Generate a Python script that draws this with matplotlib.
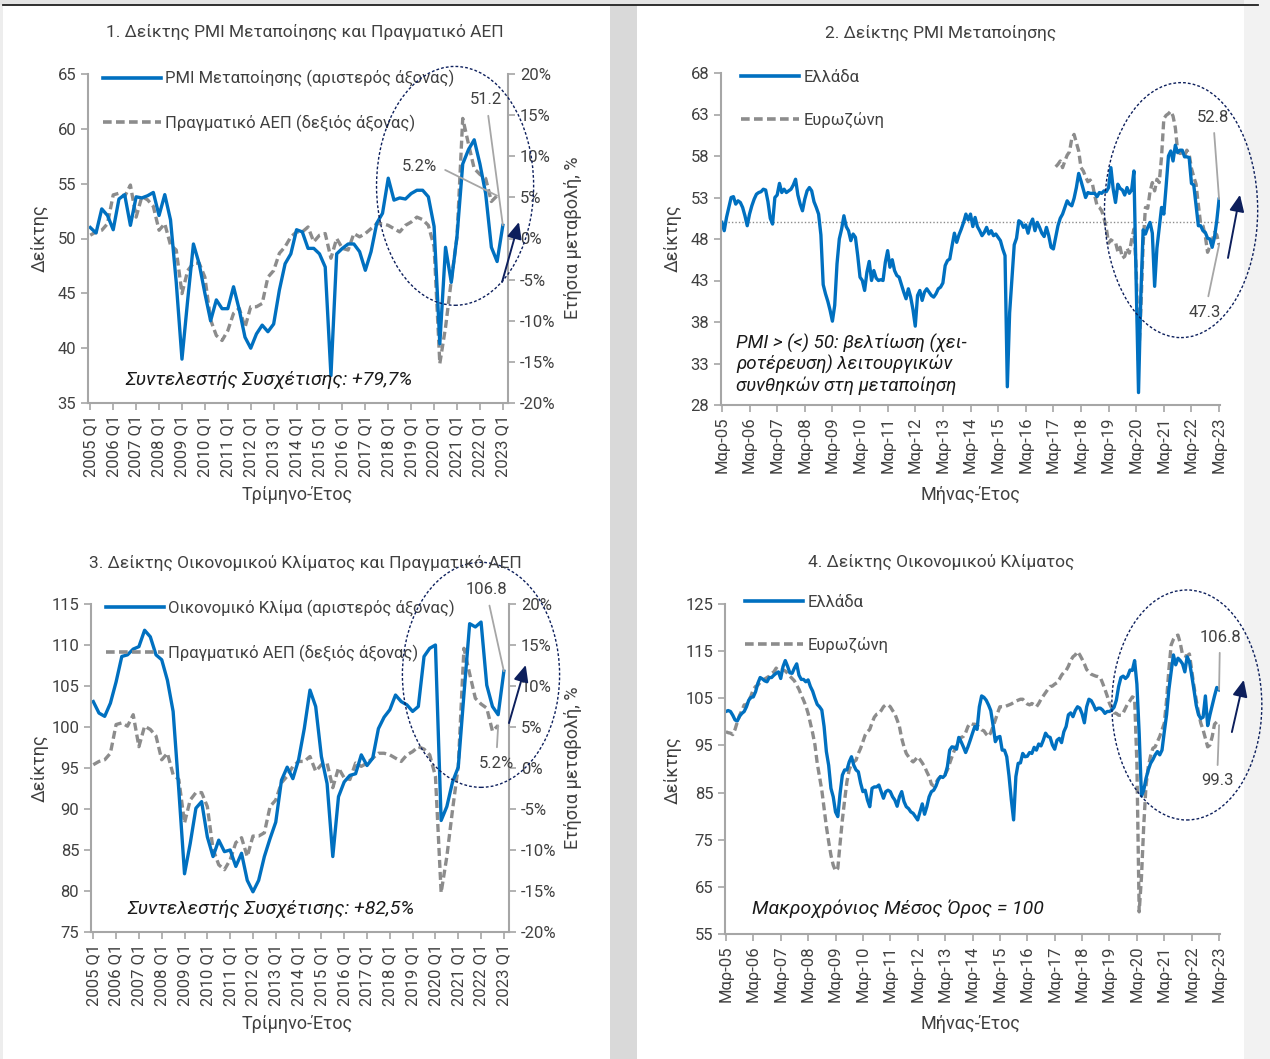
import matplotlib.pyplot as plt
import matplotlib.patches as mpatches
from matplotlib.lines import Line2D
import numpy as np

plt.rcParams['font.family'] = ['Roboto', 'DejaVu Sans']

# ---- data -------------------------------------------------------------
# quarterly, 2005 Q1 .. 2023 Q1
quarter_labels = [f'{y} Q1' for y in range(2005, 2024)]
pmi_q = [51.0, 50.5, 52.7, 52.1, 50.8, 53.6, 54.0, 51.2, 53.8, 53.7,
         53.9, 54.2, 52.1, 54.0, 51.7, 46.0, 39.0, 44.4, 49.5, 47.7,
         45.0, 42.5, 44.4, 43.6, 43.6, 45.6, 43.5, 41.0, 40.0, 41.3,
         42.1, 41.5, 42.2, 45.3, 47.7, 48.6, 50.8, 50.6, 49.1, 49.1,
         48.6, 47.4, 37.5, 48.6, 49.1, 49.5, 49.5, 48.8, 47.1, 48.8,
         51.4, 52.3, 55.5, 53.5, 53.7, 53.6, 54.1, 54.4, 54.4, 53.8,
         51.1, 40.4, 49.2, 46.0, 50.2, 56.8, 58.1, 59.0, 56.8, 54.1,
         49.2, 47.9, 51.2]
# real GDP y/y %, 2005 Q1 .. 2022 Q4
gdp_q = [0.4, 0.8, 1.0, 1.8, 5.3, 5.5, 5.1, 6.5, 2.6, 5.1,
         4.7, 3.9, 1.0, 1.8, -0.8, -1.4, -6.7, -3.9, -3.0, -3.0,
         -4.7, -9.9, -11.8, -12.4, -11.2, -9.1, -8.5, -10.8, -8.3, -8.3,
         -7.9, -4.7, -3.9, -1.8, -1.0, 0.2, 0.8, 0.8, 1.4, -0.4,
         0.4, 0.6, -2.4, 0.0, -1.2, -1.4, 0.6, 0.2, 0.6, 1.2,
         1.8, 1.8, 1.6, 1.2, 0.8, 1.6, 2.0, 2.6, 2.3, 1.6,
         -1.0, -15.2, -10.8, -5.1, 0.2, 14.6, 11.5, 8.5, 7.8, 7.3,
         4.5, 5.2]
esi_q = [103.1, 101.7, 101.3, 102.9, 105.5, 108.6, 108.8, 109.5, 109.8, 111.8,
         111.0, 108.8, 108.2, 105.7, 101.9, 92.3, 82.1, 85.8, 90.1, 90.9,
         86.6, 84.2, 86.2, 84.8, 85.0, 83.0, 84.6, 81.3, 79.9, 81.3,
         84.2, 86.4, 88.4, 93.5, 95.1, 93.7, 96.0, 99.8, 104.5, 102.5,
         96.4, 93.1, 84.2, 91.5, 93.3, 94.1, 94.3, 96.6, 95.3, 96.2,
         99.8, 101.2, 102.1, 103.9, 103.1, 102.7, 101.9, 102.5, 108.6, 109.6,
         110.0, 88.6, 90.3, 93.3, 95.1, 104.0, 112.6, 112.2, 112.8, 105.1,
         102.5, 101.5, 106.8]

# monthly, Mar-05 .. Mar-23
month_labels = [f'Μαρ-{y:02d}' for y in range(5, 24)]
pmi_gr = [50.0, 49.0, 50.6, 51.8, 53.0, 53.1, 52.2, 52.6, 52.4, 51.8, 50.8, 49.6,
          51.0, 52.0, 52.8, 53.4, 53.6, 53.7, 54.0, 53.9, 52.5, 50.5, 49.8, 53.0,
          53.3, 54.7, 53.6, 54.0, 53.6, 53.8, 54.0, 54.5, 55.2, 53.3, 52.2, 51.4,
          52.8, 53.8, 54.2, 53.8, 52.5, 51.8, 51.0, 48.5, 42.5, 41.4, 40.5, 39.4,
          38.1, 40.0, 45.0, 48.0, 49.2, 50.8, 49.5, 49.0, 47.8, 48.6, 48.2, 46.0,
          43.4, 43.0, 41.8, 44.0, 45.3, 43.0, 44.2, 43.3, 43.0, 43.1, 43.0, 45.2,
          46.6, 44.6, 45.5, 44.2, 43.6, 43.4, 42.5, 41.6, 40.8, 42.0, 41.0, 39.5,
          37.5, 41.2, 41.8, 40.6, 41.6, 42.0, 41.6, 41.2, 41.0, 41.4, 42.0, 42.2,
          42.7, 44.8, 45.4, 45.6, 47.2, 48.7, 47.6, 48.5, 49.2, 50.0, 51.0, 50.3,
          51.0, 49.5, 50.6, 49.5, 49.0, 48.4, 48.8, 49.4, 48.6, 49.0, 48.4, 48.6,
          48.2, 47.8, 46.8, 46.0, 30.2, 39.1, 43.3, 47.3, 48.1, 50.2, 50.0, 49.4,
          49.7, 48.7, 49.8, 50.4, 49.0, 50.0, 49.4, 48.7, 48.3, 49.4, 48.4, 47.0,
          46.8, 48.2, 49.6, 50.5, 51.0, 51.8, 52.6, 52.2, 52.0, 52.9, 54.2, 55.9,
          55.0, 54.0, 53.0, 53.6, 53.5, 53.5, 53.5, 53.1, 53.6, 53.5, 53.8, 53.7,
          54.2, 56.6, 54.0, 52.4, 54.6, 54.1, 53.9, 53.3, 54.2, 53.5, 53.9, 56.2,
          42.5, 29.5, 41.1, 49.1, 48.6, 49.4, 50.0, 48.7, 42.3, 46.9, 49.4, 51.8,
          51.0, 54.4, 58.0, 58.6, 57.4, 59.3, 58.4, 58.7, 58.7, 57.9, 57.9, 57.8,
          54.7, 54.5, 52.0, 49.6, 49.6, 49.0, 48.8, 48.1, 48.0, 47.0, 48.2, 50.2,
          52.8]
# euro area PMI, Apr-17 .. Mar-23
pmi_ez_start = 145
pmi_ez = [56.7, 57.0, 57.4, 56.6, 57.4, 58.1, 58.5, 60.1, 60.6,
          59.6, 58.6, 56.6, 56.2, 55.5, 54.9, 55.1, 54.6, 53.2, 52.0, 51.8, 51.4,
          50.5, 49.3, 47.5, 47.9, 47.7, 47.6, 46.5, 47.0, 45.7, 45.9, 46.9, 46.3,
          47.9, 49.2, 44.5, 33.4, 39.4, 47.4, 51.8, 51.7, 53.7, 54.8, 53.8, 55.2,
          54.8, 57.9, 62.5, 62.9, 63.1, 63.4, 62.8, 61.4, 58.6, 58.3, 58.4, 58.0,
          58.7, 58.2, 56.5, 55.5, 54.6, 52.1, 49.8, 49.6, 48.4, 46.4, 47.1, 47.8,
          48.8, 48.5, 47.3]
esi_gr = [102.2, 102.4, 102.2, 101.4, 100.4, 100.2, 101.2, 101.8, 102.2, 103.2, 104.6, 105.2,
          105.3, 106.4, 108.2, 109.4, 109.1, 108.7, 108.5, 109.4, 109.4, 109.9, 110.3, 110.6,
          109.2, 111.7, 113.0, 111.8, 110.4, 110.3, 111.4, 112.3, 109.9, 109.0, 109.0, 108.5,
          108.9, 107.5, 106.5, 105.0, 103.7, 103.2, 102.5, 99.0, 93.7, 90.8, 85.9, 84.1,
          80.9, 79.9, 84.8, 88.7, 89.8, 89.8, 91.5, 92.6, 90.8, 89.8, 89.4, 87.0,
          85.2, 85.5, 83.4, 82.0, 85.9, 86.2, 86.2, 86.6, 85.2, 83.8, 85.2, 85.5,
          85.2, 84.1, 83.4, 82.1, 84.1, 85.2, 83.1, 82.0, 81.6, 80.9, 80.6, 79.9,
          79.2, 80.9, 82.6, 80.4, 82.0, 84.1, 85.2, 85.5, 86.4, 87.7, 88.4, 88.2,
          88.7, 90.5, 94.0, 94.7, 94.6, 94.2, 96.7, 95.8, 94.7, 93.5, 94.7, 96.1,
          97.6, 99.0, 98.4, 103.2, 105.5, 105.2, 104.6, 103.6, 102.4, 99.3, 95.8, 96.7,
          96.9, 94.0, 94.0, 92.6, 88.5, 83.5, 79.2, 88.4, 91.2, 91.3, 93.3, 92.6,
          92.7, 93.5, 93.3, 94.6, 94.0, 95.3, 94.9, 96.1, 97.6, 96.9, 96.7, 95.1,
          94.2, 96.1, 96.5, 95.6, 97.9, 99.0, 101.5, 101.9, 101.1, 102.4, 103.2, 102.9,
          101.7, 99.8, 103.2, 104.8, 104.5, 103.6, 102.5, 102.9, 102.9, 102.5, 101.8, 102.2,
          102.2, 102.5, 103.1, 104.6, 107.5, 109.4, 109.7, 109.2, 109.7, 111.0, 110.9, 113.0,
          108.0, 97.6, 84.3, 85.5, 88.0, 89.8, 91.2, 92.0, 93.0, 93.7, 93.0, 94.0,
          97.9, 101.5, 106.8, 110.6, 114.2, 112.1, 113.5, 113.0, 112.3, 110.6, 113.8, 112.8,
          109.9, 106.8, 103.5, 101.5, 100.7, 101.0, 105.5, 99.2, 101.5, 103.5, 105.5, 107.3,
          106.8]
esi_ez = [97.9, 97.7, 97.6, 97.3, 98.4, 100.0, 101.4, 102.4, 103.6, 103.6, 104.5, 105.5,
          106.9, 107.5, 107.8, 108.4, 108.7, 109.1, 109.4, 109.7, 110.3, 110.6, 111.4, 110.9,
          111.0, 111.0, 110.8, 110.3, 109.7, 109.2, 108.7, 107.8, 106.9, 105.7, 104.6, 103.4,
          101.8, 99.7, 97.6, 95.1, 91.2, 88.4, 85.5, 81.6, 77.8, 74.6, 71.7, 69.6,
          68.4, 68.9, 74.2, 79.2, 83.4, 87.3, 89.8, 91.1, 91.5, 91.9, 93.3, 94.4,
          95.8, 97.2, 97.9, 98.4, 99.8, 101.0, 101.6, 101.8, 102.4, 103.2, 103.6, 103.6,
          103.2, 102.4, 101.7, 100.4, 99.0, 96.5, 94.7, 93.3, 92.6, 91.9, 91.5, 92.0,
          92.6, 92.0, 91.3, 90.5, 89.4, 88.4, 86.8, 86.4, 87.1, 87.9, 88.4, 88.4,
          88.9, 89.8, 91.2, 92.6, 93.9, 94.9, 95.6, 96.7, 96.9, 97.7, 99.0, 99.7,
          99.5, 99.5, 99.3, 98.8, 98.3, 98.1, 97.4, 96.9, 97.7, 99.0, 100.4, 101.9,
          103.2, 103.2, 103.2, 103.4, 103.6, 103.8, 104.1, 104.4, 104.6, 104.8, 104.8, 104.3,
          103.8, 103.6, 103.9, 103.6, 103.2, 103.9, 104.8, 105.5, 106.2, 106.9, 107.5, 107.6,
          108.0, 108.3, 109.0, 109.9, 110.5, 110.9, 111.8, 113.0, 113.8, 114.2, 114.9, 114.2,
          113.3, 112.3, 111.1, 110.6, 110.1, 109.9, 109.7, 109.6, 109.4, 108.2, 106.9, 105.5,
          103.9, 102.9, 101.9, 101.8, 101.4, 101.4, 101.9, 102.9, 103.9, 104.5, 105.3, 105.0,
          91.2, 59.7, 67.0, 78.0, 86.5, 90.5, 92.8, 94.4, 94.7, 95.8, 96.9, 98.3,
          99.7, 104.6, 111.0, 116.3, 117.5, 118.2, 118.4, 116.7, 114.2, 114.0, 114.0, 114.4,
          111.0, 107.5, 104.6, 101.9, 99.7, 98.3, 96.5, 94.7, 95.1, 96.9, 99.5, 100.0,
          99.3]

# ---- style ------------------------------------------------------------
BLUE = '#0070c0'
GRAY = '#8c8c8c'
TXT = '#404040'
NAVY = '#0d1f5c'
AXC = '#a6a6a6'
DASH = (2.4, 1.2)

W, H = 1270, 1059
fig = plt.figure(figsize=(W / 100, H / 100), dpi=100)


def px_axes(l, t, r, b):
    return fig.add_axes([l / W, 1 - b / H, (r - l) / W, (b - t) / H])


def frect(x0, y0, x1, y1, c):
    fig.add_artist(mpatches.Rectangle((x0 / W, 1 - y1 / H), (x1 - x0) / W, (y1 - y0) / H,
                                      transform=fig.transFigure, color=c, zorder=0, lw=0))


frect(610, 5, 637, H, '#d9d9d9')
frect(1244, 0, W, H, '#f2f2f2')
frect(0, 0, 3, H, '#ededed')
frect(0, 0, 1244, 5, '#e4e4e4')
fig.add_artist(Line2D([3 / W, 1258 / W], [1 - 5 / H, 1 - 5 / H], color='#202020', lw=1.3,
                      transform=fig.transFigure))


def style(ax):
    ax.patch.set_visible(False)
    for s in ['top', 'right']:
        ax.spines[s].set_visible(False)
    for s in ['left', 'bottom']:
        ax.spines[s].set_color(AXC)
        ax.spines[s].set_linewidth(1.5)
    ax.tick_params(colors=AXC, labelcolor=TXT, labelsize=12, length=5, width=1.2)


def style_right(axr):
    for s in ['top', 'left', 'bottom']:
        axr.spines[s].set_visible(False)
    axr.spines['right'].set_color(AXC)
    axr.spines['right'].set_linewidth(1.5)
    axr.tick_params(colors=AXC, labelcolor=TXT, labelsize=12, length=5, width=1.2)


def legend(ax, labels, x0, y0):
    hs = [Line2D([], [], color=BLUE, lw=2.6), Line2D([], [], color=GRAY, lw=2.6, dashes=DASH)]
    ax.legend(hs, labels, loc='upper left', bbox_to_anchor=(x0, y0), frameon=False,
              handlelength=3.5, labelspacing=1.65, handletextpad=0.25, borderaxespad=0,
              borderpad=0, fontsize=12, labelcolor=TXT)


def circle(ax, cx, cy, w, h, tail, head):
    ax.add_patch(mpatches.Ellipse((cx, cy), w, h, transform=ax.transAxes, fill=False,
                                  ec=NAVY, lw=1.0, ls=(0, (2, 1.5)), clip_on=False, zorder=6))
    ax.annotate('', xy=head, xytext=tail, xycoords='axes fraction',
                arrowprops=dict(arrowstyle='-|>,head_length=1.0,head_width=0.45',
                                color=NAVY, lw=1.4, shrinkA=0, shrinkB=0),
                annotation_clip=False, zorder=7)


def callout(ax, text, xy, xytext, trans, relpos=(0.5, 0.5)):
    ax.annotate(text, xy=xy, xycoords=trans, xytext=xytext, textcoords='axes fraction',
                ha='center', va='center', fontsize=12, color=TXT, annotation_clip=False,
                arrowprops=dict(arrowstyle='-', color='#a6a6a6', lw=1.3, shrinkA=4, shrinkB=0,
                                relpos=relpos), zorder=7)


def quarterly_panel(ax, series, ylim, ystep, label, corr, ly):
    q = np.arange(len(series))
    axr = ax.twinx()
    ax.set_zorder(axr.get_zorder() + 1)
    style(ax)
    style_right(axr)
    axr.plot(np.arange(len(gdp_q)), gdp_q, color=GRAY, lw=2.4, dashes=DASH)
    ax.plot(q, series, color=BLUE, lw=2.4)
    ax.set_xlim(-0.4, 72.9)
    ax.set_ylim(*ylim)
    ax.set_yticks(np.arange(ylim[0], ylim[1] + 1, ystep))
    ax.set_xticks(q[::4])
    ax.set_xticklabels(quarter_labels, rotation=90)
    axr.set_ylim(-20, 20)
    axr.set_yticks(np.arange(-20, 21, 5))
    axr.set_yticklabels([f'{v}%' for v in range(-20, 21, 5)])
    legend(ax, [label, 'Πραγματικό ΑΕΠ (δεξιός άξονας)'], 0.035, ly)
    ax.text(0.43, 0.07, corr, transform=ax.transAxes, ha='center', va='center',
            fontsize=14, style='italic', color='#1a1a1a')
    return axr


def monthly_panel(ax, gr, ez, ez_start, ylim, ystep, ly):
    style(ax)
    m = np.arange(len(gr))
    ax.plot(np.arange(ez_start, ez_start + len(ez)), ez, color=GRAY, lw=2.4, dashes=DASH)
    ax.plot(m, gr, color=BLUE, lw=2.4)
    ax.set_xlim(-0.4, 216.4)
    ax.set_ylim(*ylim)
    ax.set_yticks(np.arange(ylim[0], ylim[1] + 1, ystep))
    ax.set_xticks(m[::12])
    ax.set_xticklabels(month_labels, rotation=90)
    legend(ax, ['Ελλάδα', 'Ευρωζώνη'], 0.04, ly)
    return m


# ---- panel 1 ----------------------------------------------------------
ax1 = px_axes(88, 74, 508, 403)
ax1r = quarterly_panel(ax1, pmi_q, (35, 65), 5, 'PMI Μεταποίησης (αριστερός άξονας)',
                       'Συντελεστής Συσχέτισης: +79,7%', 1.012)
circle(ax1, 0.874, 0.660, 0.374, 0.726, (0.986, 0.368), (1.026, 0.550))
callout(ax1, '51.2', (72, pmi_q[-1]), (0.948, 0.921), ax1.transData)
callout(ax1, '5.2%', (71, gdp_q[-1]), (0.79, 0.72), ax1r.transData, relpos=(1, 0.5))

# ---- panel 2 ----------------------------------------------------------
ax2 = px_axes(721, 73, 1220, 405)
monthly_panel(ax2, pmi_gr, pmi_ez, pmi_ez_start, (28, 68), 5, 1.01)
ax2.axhline(50, color='#8c8c8c', lw=1.0, ls=(0, (1, 1.5)), zorder=1)
ax2.text(0.03, 0.215, 'PMI > (<) 50: βελτίωση (χει-\nροτέρευση) λειτουργικών\nσυνθηκών στη μεταποίηση',
         transform=ax2.transAxes, ha='left', va='top', fontsize=13.5, style='italic',
         color='#1a1a1a', linespacing=1.15)
circle(ax2, 0.922, 0.587, 0.307, 0.768, (1.016, 0.443), (1.040, 0.633))
callout(ax2, '52.8', (216, pmi_gr[-1]), (0.986, 0.867), ax2.transData)
callout(ax2, '47.3', (216, pmi_ez[-1]), (0.970, 0.280), ax2.transData)

# ---- panel 3 ----------------------------------------------------------
ax3 = px_axes(91, 604, 509, 932)
ax3r = quarterly_panel(ax3, esi_q, (75, 115), 5, 'Οικονομικό Κλίμα (αριστερός άξονας)',
                       'Συντελεστής Συσχέτισης: +82,5%', 1.013)
circle(ax3, 0.933, 0.784, 0.376, 0.686, (1.0, 0.637), (1.04, 0.814))
callout(ax3, '106.8', (72, esi_q[-1]), (0.945, 1.043), ax3.transData)
callout(ax3, '5.2%', (71, gdp_q[-1]), (0.969, 0.515), ax3r.transData)

# ---- panel 4 ----------------------------------------------------------
ax4 = px_axes(725, 604, 1220, 934)
monthly_panel(ax4, esi_gr, esi_ez, 0, (55, 125), 10, 1.028)
ax4.text(0.055, 0.076, 'Μακροχρόνιος Μέσος Όρος = 100', transform=ax4.transAxes,
         ha='left', va='center', fontsize=14, style='italic', color='#1a1a1a')
circle(ax4, 0.933, 0.694, 0.303, 0.697, (1.024, 0.612), (1.048, 0.770))
callout(ax4, '106.8', (216, esi_gr[-1]), (1.0, 0.9), ax4.transData)
callout(ax4, '99.3', (216, esi_ez[-1]), (0.994, 0.464), ax4.transData)

# ---- titles and axis labels ------------------------------------------
def ftext(x, y, s, **kw):
    fig.text(x / W, 1 - y / H, s, ha='center', va='center', color=TXT, **kw)


ftext(305, 32, '1. Δείκτης PMI Μεταποίησης και Πραγματικό ΑΕΠ', fontsize=12.5)
ftext(941, 33, '2. Δείκτης PMI Μεταποίησης', fontsize=12.5)
ftext(305, 563, '3. Δείκτης Οικονομικού Κλίματος και Πραγματικό ΑΕΠ', fontsize=12.5)
ftext(941, 562, '4. Δείκτης Οικονομικού Κλίματος', fontsize=12.5)
for x, y in [(40, 238), (673, 238), (40, 768), (673, 770)]:
    ftext(x, y, 'Δείκτης', fontsize=13, rotation=90)
for y in [238, 768]:
    ftext(573, y, 'Ετήσια μεταβολή, %', fontsize=13, rotation=90)
ftext(297, 495, 'Τρίμηνο-Έτος', fontsize=13)
ftext(297, 1024, 'Τρίμηνο-Έτος', fontsize=13)
ftext(970, 495, 'Μήνας-Έτος', fontsize=13)
ftext(970, 1024, 'Μήνας-Έτος', fontsize=13)

fig.savefig('out.png', dpi=100, facecolor='white')
